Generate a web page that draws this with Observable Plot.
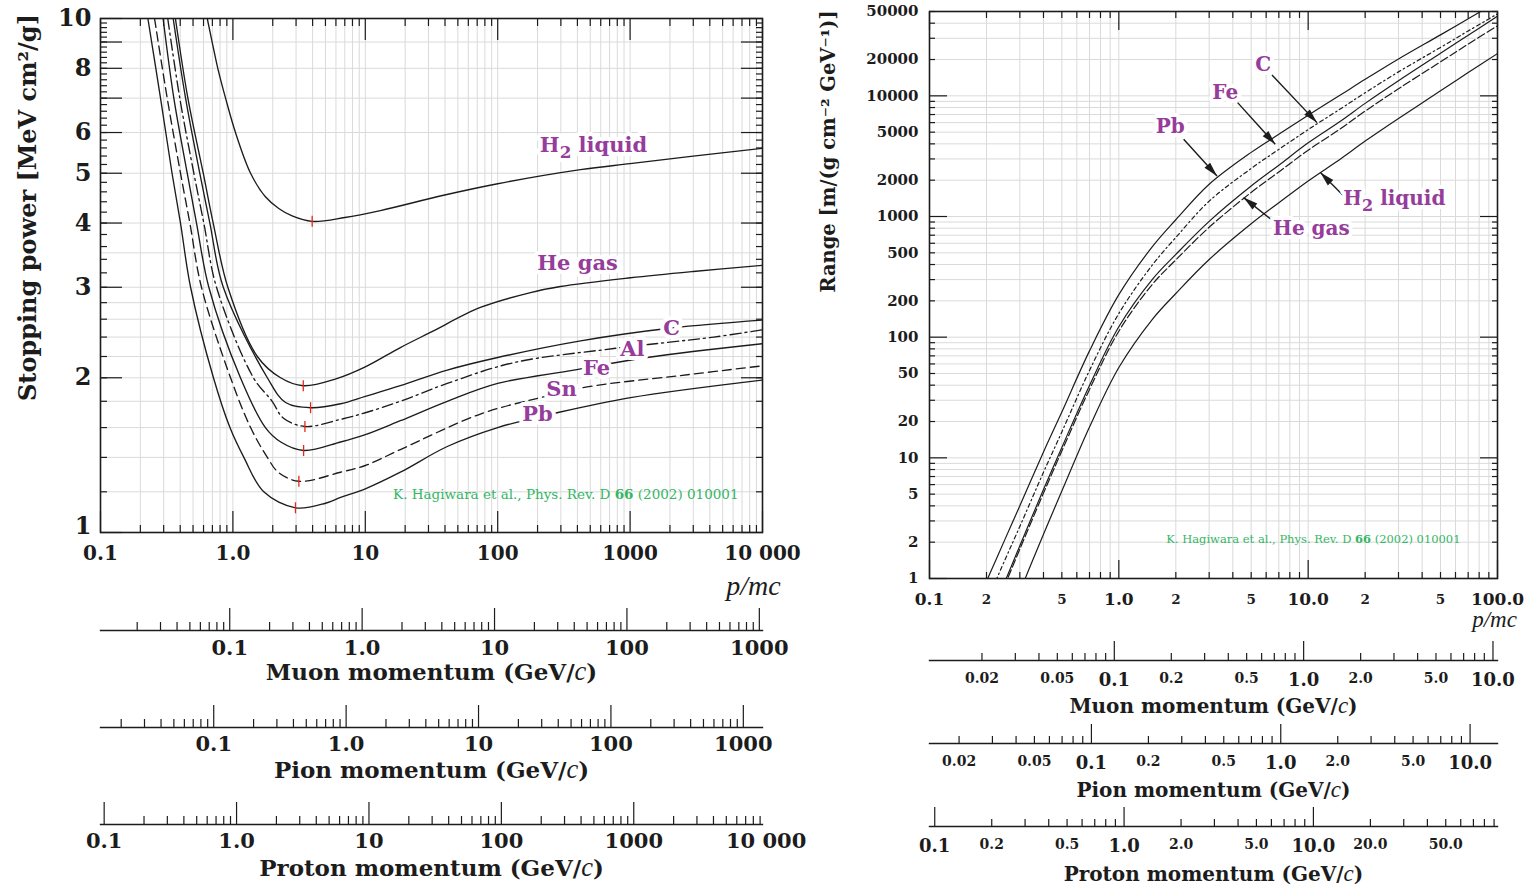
<!DOCTYPE html>
<html><head><meta charset="utf-8">
<script src="https://cdn.jsdelivr.net/npm/d3@7"></script>
<script src="https://cdn.jsdelivr.net/npm/@observablehq/plot@0.6"></script>
<style>
html,body{margin:0;padding:0;background:#fff;}
#root{position:relative;width:1532px;height:888px;overflow:hidden;background:#fff;}
#root svg{position:absolute;overflow:visible;max-width:none;}
</style></head>
<body><div id="root"></div>
<script>
// ---------------- Stopping power (left panel): [beta*gamma, MeV cm^2/g] ----------------
const stoppingH2 = [[0.64,10],[0.697,9],[0.769,8],[0.88,7],[1.046,6],[1.36,5],[1.76,4.5],[2.22,4.27],[2.8,4.13],[3.97,4.03],[7,4.1],[13,4.23],[39,4.53],[100,4.77],[422,5.08],[1000,5.22],[3000,5.4],[10000,5.59]];
const stoppingHe = [[0.368,10],[0.457,7],[0.597,5],[0.71,4],[0.916,3],[1.53,2.2],[2.29,2.0],[3.4,1.93],[6,1.99],[10,2.1],[18.4,2.29],[31,2.45],[74,2.74],[177,2.93],[298,3.01],[1007,3.13],[3000,3.22],[10000,3.31]];
const stoppingC  = [[0.354,10],[0.439,7],[0.562,5],[0.67,4],[0.846,3],[1.82,2],[2.5,1.79],[3.86,1.749],[6.5,1.78],[10,1.84],[18.4,1.93],[41.6,2.07],[100,2.19],[423,2.36],[2055,2.5],[10000,2.59]];
const stoppingAl = [[0.322,10],[0.397,7],[0.507,5],[0.603,4],[0.752,3],[1.43,2],[1.98,1.8],[2.4,1.67],[3.5,1.608],[6.5,1.66],[10,1.71],[18.4,1.8],[41.6,1.95],[132,2.14],[754,2.28],[4285,2.4],[10000,2.48]];
const stoppingFe = [[0.297,10],[0.358,7],[0.452,5],[0.531,4],[0.658,3],[1.14,2],[1.76,1.6],[2.3,1.5],[3.42,1.444],[6.5,1.5],[10,1.55],[18.4,1.65],[41.6,1.8],[100,1.95],[376,2.07],[1345,2.19],[10000,2.33]];
const stoppingSn = [[0.256,10],[0.319,7],[0.402,5],[0.473,4],[0.579,3],[0.96,2],[1.36,1.6],[1.82,1.4],[2.2,1.31],[3.15,1.258],[6.5,1.31],[10,1.35],[18.4,1.45],[74,1.7],[210,1.83],[474,1.92],[2404,2.02],[10000,2.11]];
const stoppingPb = [[0.228,10],[0.284,7],[0.347,5],[0.402,4],[0.479,3],[0.713,2],[0.95,1.6],[1.21,1.4],[1.71,1.2],[2.97,1.117],[5,1.14],[6.5,1.17],[10,1.216],[18.4,1.31],[41.6,1.47],[100,1.6],[281,1.71],[1007,1.83],[10000,1.98]];
const stoppingMinima = [[3.97,4.03],[3.40,1.93],[3.86,1.749],[3.5,1.608],[3.42,1.444],[3.15,1.258],[2.97,1.117]];
const stoppingLabelText = ["H2 liquid","He gas","C","Al","Fe","Sn","Pb"];
const stoppingLabelPos = [[529,5.66],[401,3.34],[2055,2.5],[1042,2.27],[557,2.09],[303,1.897],[200,1.70]];

// ---------------- Range (right panel): R/M vs beta*gamma ----------------
const rangeBG = [0.2,0.25,0.3,0.4,0.5,0.7,1,1.5,2,3,5,7,10,15,20,30,50,70,100];
const rangePb = [0.95,2.1,4.0,11.2,24,77,225,560,940,1850,3400,4800,6900,10300,13700,20200,32000,43500,60000];
const rangeFe = [0.64,1.42,2.7,7.6,16.4,53,157,395,670,1340,2500,3600,5250,7900,10600,15800,25200,34500,47800];
const rangeC  = [0.42,0.94,1.87,5.46,12.2,39.8,122,300,485,912,1790,2660,4080,6250,8660,13330,22500,31800,45700];
const rangeHe = [0.39,0.88,1.75,5.1,11.4,36.9,112,273,437,814,1583,2340,3546,5410,7470,11440,19140,26830,38080];
const rangeH2 = [0.17,0.39,0.78,2.33,5.3,18,56,140,230,440,870,1300,1970,3040,4220,6500,11000,15600,22400];
const rangeLabelText = ["C","Fe","Pb","H2 liquid","He gas"];
const rangeLabelPos = [[5.79,18000],[3.65,10600],[1.87,5530],[28.5,1400],[10.4,789]];
const rangeArrowFrom = [[6.44,14900],[4.24,8790],[2.20,4370],[15.4,1482],[6.70,890]];
const rangeArrowTo   = [[11.13,6000],[6.70,3970],[3.30,2170],[11.6,2311],[4.56,1435]];

// ---------------- Axis ticks & labels ----------------
const spXTicks = [0.1,1,10,100,1000,10000];
const spXTickLabels = ["0.1","1.0","10","100","1000","10 000"];
const spYTicks = [1,2,3,4,5,6,8,10];
const spYTickLabels = ["1","2","3","4","5","6","8","10"];
const spYGrid = [1.2,1.4,1.6,1.8,2,2.2,2.4,2.6,2.8,3,3.5,4,5,6,7,8,9];
const rgXTicks = [0.1,0.2,0.5,1,2,5,10,20,50,100];
const rgXTickLabels = ["0.1","2","5","1.0","2","5","10.0","2","5","100.0"];
const rgYTicks = [1,2,5,10,20,50,100,200,500,1000,2000,5000,10000,20000,50000];
const rgYTickLabels = ["1","2","5","10","20","50","100","200","500","1000","2000","5000","10000","20000","50000"];
const massMuon = 0.10566, massPion = 0.13957, massProton = 0.93827; // GeV/c^2
const momLeftTicks = [0.1,1,10,100,1000];
const momLeftLabels = ["0.1","1.0","10","100","1000"];
const momLeftProtonTicks = [0.1,1,10,100,1000,10000];
const momLeftProtonLabels = ["0.1","1.0","10","100","1000","10 000"];
const momRightTicks = [0.02,0.05,0.1,0.2,0.5,1,2,5,10];
const momRightLabels = ["0.02","0.05","0.1","0.2","0.5","1.0","2.0","5.0","10.0"];
const momRightProtonTicks = [0.1,0.2,0.5,1,2,5,10,20,50];
const momRightProtonLabels = ["0.1","0.2","0.5","1.0","2.0","5.0","10.0","20.0","50.0"];

// ---------------- helpers ----------------
const FONT = "'DejaVu Serif', 'Liberation Serif', serif";
const ITAL = "'Liberation Serif', 'DejaVu Serif', serif";
const INK = "#1c1c1c", GRID = "#dadada", PURPLE = "#963c9b", GREEN = "#34b664", RED = "#e8261c";
const root = document.getElementById("root");
const baseStyle = {fontFamily: FONT, fontWeight: "bold", color: INK, background: "transparent", overflow: "visible"};
const ALL = [1,2,3,4,5,6,7,8,9], MINOR = [2,3,4,5,6,7,8,9];
function logTicks(lo, hi, mults) {
  const out = [];
  for (let e = -3; e <= 6; e++) for (const k of mults) {
    const v = +(k * Math.pow(10, e)).toPrecision(10);
    if (v >= lo * 0.9999 && v <= hi * 1.0001) out.push(v);
  }
  return out;
}
const isDecade = v => Math.abs(Math.log10(v) - Math.round(Math.log10(v))) < 1e-9;
function put(svg, left, top) { svg.style.left = left + "px"; svg.style.top = top + "px"; root.appendChild(svg); return svg; }
function fmt(ticks, labels) { const m = new Map(ticks.map((t, i) => [t, labels[i]])); return d => m.get(d) ?? ""; }
function ticksX(values, anchor, len) {
  return Plot.axisX(values, {anchor, tickSize: len, dy: anchor === "bottom" ? -len : len, tickFormat: () => "", label: null, strokeWidth: 1.2});
}
function ticksY(values, anchor, len) {
  return Plot.axisY(values, {anchor, tickSize: len, dx: anchor === "left" ? len : -len, tickFormat: () => "", label: null, strokeWidth: 1.2});
}
function labelsX(values, allTicks, allLabels, pad, size) {
  return Plot.text(values, {x: d => d, text: fmt(allTicks, allLabels), frameAnchor: "bottom", lineAnchor: "top", textAnchor: "middle", dy: pad, fontSize: size, fontWeight: "bold"});
}
function labelsY(values, allTicks, allLabels, pad, size, dy = 0) {
  return Plot.text(values, {y: d => d, text: fmt(allTicks, allLabels), frameAnchor: "left", textAnchor: "end", dx: -pad, dy, fontSize: size, fontWeight: "bold"});
}
function verticalTitle(text, cx, cy, len, size) {
  const svg = Plot.plot({width: 40, height: len, margin: 0, style: baseStyle,
    marks: [Plot.text([text], {frameAnchor: "middle", rotate: -90, fontSize: size, fontWeight: "bold"})]});
  put(svg, cx - 20, cy - len / 2);
}
const vbar = {draw(ctx, size) { const r = Math.sqrt(size / Math.PI); ctx.moveTo(0, -r); ctx.lineTo(0, r); }};
function filledArrow(color, context) {
  const ns = "http://www.w3.org/2000/svg";
  const m = document.createElementNS(ns, "marker");
  m.setAttribute("viewBox", "-6 -5 12 10");
  m.setAttribute("refX", "6"); m.setAttribute("refY", "0");
  m.setAttribute("markerWidth", "15"); m.setAttribute("markerHeight", "12");
  m.setAttribute("markerUnits", "userSpaceOnUse");
  m.setAttribute("orient", "auto");
  const p = document.createElementNS(ns, "path");
  p.setAttribute("d", "M-6,-3.2L6,0L-6,3.2Z");
  p.setAttribute("fill", color); p.setAttribute("stroke", "none");
  m.appendChild(p);
  return m;
}
function rich(svg) {
  d3.select(svg).selectAll("text").each(function() {
    const t = this.textContent, el = d3.select(this);
    if (t === "H2 liquid") {
      el.text(null);
      el.append("tspan").text("H");
      el.append("tspan").attr("dy", 6).attr("font-size", "0.8em").text("2");
      el.append("tspan").attr("dy", -6).text(" liquid");
    } else if (t.startsWith("K. Hagiwara")) {
      el.text(null);
      el.append("tspan").text("K. Hagiwara et al., Phys. Rev. D ");
      el.append("tspan").attr("font-weight", "bold").text("66");
      el.append("tspan").text(" (2002) 010001");
    } else if (t.endsWith("(GeV/c)")) {
      el.text(null);
      el.append("tspan").text(t.slice(0, -2));
      el.append("tspan").attr("font-family", ITAL).attr("font-style", "italic").attr("font-weight", "normal").attr("font-size", "1.15em").text("c");
      el.append("tspan").text(")");
    }
  });
  return svg;
}

// ---------------- Left panel: stopping power ----------------
const spCurves = [[stoppingH2, null],[stoppingHe, null],[stoppingC, null],[stoppingAl, "11,4,2,4"],[stoppingFe, null],[stoppingSn, "9,5"],[stoppingPb, null]];
const spMinorY = d3.range(1.2, 10, 0.2).map(v => +v.toFixed(1));
const left = Plot.plot({
  width: 800, height: 600, marginTop: 18, marginRight: 38, marginBottom: 68, marginLeft: 100,
  x: {type: "log", domain: [0.1, 10000]},
  y: {type: "log", domain: [1, 10]},
  style: baseStyle,
  marks: [
    Plot.gridX(logTicks(0.1, 10000, ALL), {stroke: GRID, strokeOpacity: 1}),
    Plot.gridY(spYGrid, {stroke: GRID, strokeOpacity: 1}),
    ...spCurves.map(([data, dash]) => Plot.line(data, {x: d => d[0], y: d => d[1], stroke: INK, strokeWidth: 1.35, strokeDasharray: dash || undefined, curve: "catmull-rom", clip: true})),
    Plot.dot(stoppingMinima, {x: d => d[0], y: d => d[1], symbol: vbar, r: 5.5, fill: "none", stroke: RED, strokeWidth: 1.3}),
    ticksX(spXTicks, "bottom", 21), ticksX(logTicks(0.1, 10000, MINOR), "bottom", 7),
    ticksX(spXTicks, "top", 21), ticksX(logTicks(0.1, 10000, MINOR), "top", 7),
    ticksY(d3.range(1, 11), "left", 22), ticksY(spMinorY, "left", 7),
    ticksY(d3.range(1, 11), "right", 22), ticksY(spMinorY, "right", 7),
    labelsX(spXTicks, spXTicks, spXTickLabels, 13, 20),
    labelsY(spYTicks.slice(1), spYTicks, spYTickLabels, 9, 24),
    labelsY(spYTicks.slice(0, 1), spYTicks, spYTickLabels, 9, 24, -6),
    Plot.frame({stroke: INK, strokeWidth: 1.6}),
    Plot.text(stoppingLabelText.map((t, i) => ({t, x: stoppingLabelPos[i][0], y: stoppingLabelPos[i][1]})), {x: "x", y: "y", text: "t", fill: PURPLE, stroke: "white", strokeWidth: 8, paintOrder: "stroke", fontSize: 21, fontWeight: "bold"}),
    Plot.text(["K. Hagiwara et al., Phys. Rev. D 66 (2002) 010001"], {frameAnchor: "bottom-right", dx: -24, dy: -34, textAnchor: "end", fill: GREEN, fontSize: 13.5, fontWeight: "normal"}),
    Plot.text(["p/mc"], {frameAnchor: "bottom-right", dx: -9, dy: 62, textAnchor: "middle", fontSize: 28, fontFamily: ITAL, fontStyle: "italic", fontWeight: "normal"})
  ]
});
put(rich(left), 0, 0);
verticalTitle("Stopping power [MeV cm²/g]", 28, 207, 440, 24);

// ---------------- Right panel: range ----------------
const rgSeries = [[rangePb, null],[rangeFe, "4,3,1.5,3"],[rangeC, null],[rangeHe, "8,3"],[rangeH2, null]];
const rgMajorX = rgXTicks.filter(isDecade), rgMinorX = rgXTicks.filter(v => !isDecade(v));
const right = Plot.plot({
  width: 732, height: 640, marginTop: 11, marginRight: 35, marginBottom: 62, marginLeft: 129,
  x: {type: "log", domain: [0.1, 100]},
  y: {type: "log", domain: [1, 50000]},
  style: baseStyle,
  marks: [
    Plot.gridX(logTicks(0.1, 100, ALL), {stroke: GRID, strokeOpacity: 1}),
    Plot.gridY(logTicks(1, 50000, ALL), {stroke: GRID, strokeOpacity: 1}),
    ...rgSeries.map(([vals, dash]) => Plot.line(rangeBG.map((b, i) => [b, vals[i]]), {x: d => d[0], y: d => d[1], stroke: INK, strokeWidth: 1.2, strokeDasharray: dash || undefined, curve: "catmull-rom", clip: true})),
    ticksX([0.1, 1, 10, 100], "bottom", 18), ticksX(logTicks(0.1, 100, MINOR), "bottom", 6),
    ticksX([0.1, 1, 10, 100], "top", 18), ticksX(logTicks(0.1, 100, MINOR), "top", 6),
    ticksY([1, 10, 100, 1000, 10000], "left", 18), ticksY(logTicks(1, 50000, MINOR), "left", 6),
    ticksY([1, 10, 100, 1000, 10000], "right", 18), ticksY(logTicks(1, 50000, MINOR), "right", 6),
    labelsX(rgMajorX, rgXTicks, rgXTickLabels, 14, 17),
    labelsX(rgMinorX, rgXTicks, rgXTickLabels, 16, 13.5),
    labelsY(rgYTicks, rgYTicks, rgYTickLabels, 11, 15),
    Plot.frame({stroke: INK, strokeWidth: 1.6}),
    Plot.link(rangeArrowFrom.map((f, i) => ({x1: f[0], y1: f[1], x2: rangeArrowTo[i][0], y2: rangeArrowTo[i][1]})), {x1: "x1", y1: "y1", x2: "x2", y2: "y2", stroke: INK, strokeWidth: 1.4, markerEnd: filledArrow}),
    Plot.text(rangeLabelText.map((t, i) => ({t, x: rangeLabelPos[i][0], y: rangeLabelPos[i][1]})), {x: "x", y: "y", text: "t", fill: PURPLE, stroke: "white", strokeWidth: 8, paintOrder: "stroke", fontSize: 20, fontWeight: "bold"}),
    Plot.text(["K. Hagiwara et al., Phys. Rev. D 66 (2002) 010001"], {frameAnchor: "bottom-right", dx: -37, dy: -36, textAnchor: "end", fill: GREEN, fontSize: 11.5, fontWeight: "normal"}),
    Plot.text(["p/mc"], {frameAnchor: "bottom-right", dx: -3, dy: 48, textAnchor: "middle", fontSize: 23, fontFamily: ITAL, fontStyle: "italic", fontWeight: "normal"})
  ]
});
put(rich(right), 800, 0);
verticalTitle("Range [m/(g cm⁻² GeV⁻¹)]", 828, 151, 330, 19.5);

// ---------------- Momentum axes ----------------
function momentumAxis({mass, bgDomain, width, marginLeft, marginRight, left, lineY, ticks, labels, majorLen, minorLen, majorSize, minorSize, majorPad, minorPad, title, titleSize, titleDy}) {
  const lo = bgDomain[0] * mass, hi = bgDomain[1] * mass;
  const majors = ticks.filter(isDecade), minorsLab = ticks.filter(v => !isDecade(v));
  const marks = [
    Plot.frame({anchor: "bottom", stroke: INK, strokeWidth: 1.4}),
    ticksX(logTicks(lo, hi, [1]), "bottom", majorLen),
    ticksX(logTicks(lo, hi, MINOR), "bottom", minorLen),
    labelsX(majors, ticks, labels, majorPad, majorSize),
    Plot.text([title], {frameAnchor: "bottom", dy: titleDy, fontSize: titleSize, fontWeight: "bold"})
  ];
  if (minorsLab.length) marks.push(labelsX(minorsLab, ticks, labels, minorPad, minorSize));
  const svg = Plot.plot({
    width, height: 100, marginTop: 10, marginBottom: 80, marginLeft, marginRight,
    x: {type: "log", domain: [lo, hi]},
    style: baseStyle,
    marks
  });
  put(rich(svg), left, lineY - 20);
}
const L = {bgDomain: [0.1, 10000], width: 800, marginLeft: 100, marginRight: 38, left: 0, majorLen: 22, minorLen: 8, majorSize: 21, minorSize: 21, titleSize: 23};
momentumAxis({...L, mass: massMuon, lineY: 630, ticks: momLeftTicks, labels: momLeftLabels, majorPad: 10, minorPad: 10, title: "Muon momentum (GeV/c)", titleDy: 49});
momentumAxis({...L, mass: massPion, lineY: 727, ticks: momLeftTicks, labels: momLeftLabels, majorPad: 9, minorPad: 9, title: "Pion momentum (GeV/c)", titleDy: 50});
momentumAxis({...L, mass: massProton, lineY: 824, ticks: momLeftProtonTicks, labels: momLeftProtonLabels, majorPad: 9, minorPad: 9, title: "Proton momentum (GeV/c)", titleDy: 51});
const R = {bgDomain: [0.1, 100], width: 732, marginLeft: 129, marginRight: 35, left: 800, majorLen: 19, minorLen: 7, majorSize: 18, minorSize: 14, titleSize: 20};
momentumAxis({...R, mass: massMuon, lineY: 660, ticks: momRightTicks, labels: momRightLabels, majorPad: 13, minorPad: 13, title: "Muon momentum (GeV/c)", titleDy: 52});
momentumAxis({...R, mass: massPion, lineY: 743, ticks: momRightTicks, labels: momRightLabels, majorPad: 13, minorPad: 13, title: "Pion momentum (GeV/c)", titleDy: 53});
momentumAxis({...R, mass: massProton, lineY: 826, ticks: momRightProtonTicks, labels: momRightProtonLabels, majorPad: 13, minorPad: 13, title: "Proton momentum (GeV/c)", titleDy: 54});
</script>
</body></html>
